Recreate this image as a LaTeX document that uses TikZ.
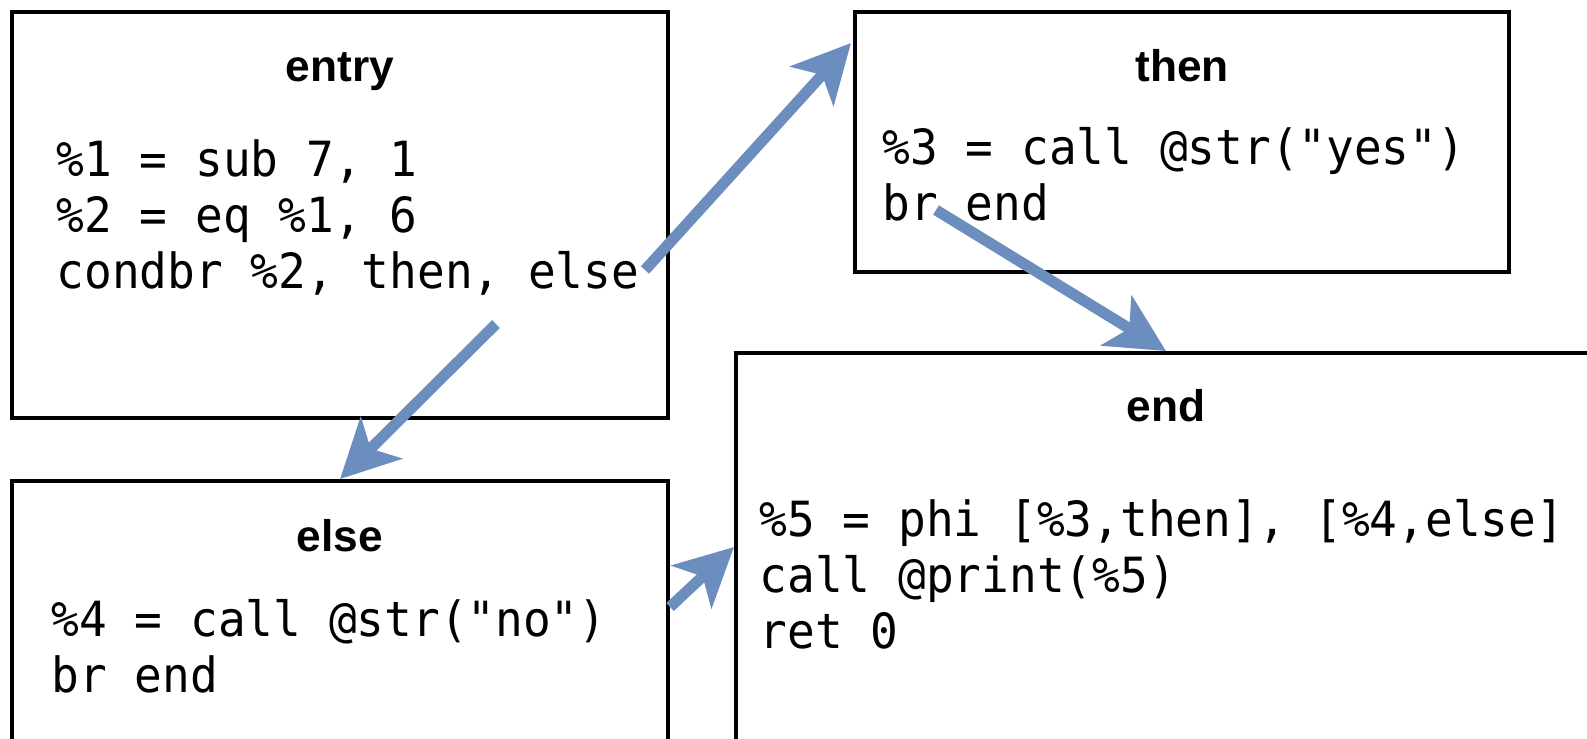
\documentclass[tikz,border=0pt]{standalone}
\usepackage{fontspec}
\setsansfont{Liberation Sans}
\setmonofont{DejaVu Sans Mono}[FakeStretch=0.95]
\usetikzlibrary{arrows.meta,calc}

\definecolor{flowblue}{RGB}{108,142,191}

\tikzset{
	block/.style={draw, line width=1.15pt, anchor=north west, inner sep=0pt},
	blocktitle/.style={anchor=base, inner sep=0pt, font=\sffamily\bfseries\fontsize{12.6}{15}\selectfont},
	% multi-line text: base sits on the last line
	code/.style={anchor=base west, inner sep=0pt, align=left, font=\ttfamily\fontsize{13.8}{15.8}\selectfont},
	flow/.style={draw=flowblue, line width=0.11cm,
		-{Stealth[length=0.58cm, width=0.58cm, inset=0.15cm, fill=flowblue]}}
}

\begin{document}
\begin{tikzpicture}
	\clip (0,0) rectangle (15.87,-7.38);
	
	% basic blocks
	\node[block, minimum width=6.56cm, minimum height=4.06cm] (entryblk) at (0.10,-0.10) {};
	\node[block, minimum width=6.54cm, minimum height=2.60cm] (thenblk) at (8.53,-0.10) {};
	\node[block, minimum width=6.56cm, minimum height=3.00cm] (elseblk) at (0.10,-4.79) {};
	\node[block, minimum width=8.60cm, minimum height=4.20cm] (endblk) at (7.34,-3.51) {};
	
	% block labels
	\node[blocktitle] (entrytitle) at ($(entryblk.north)+(0,-0.71)$) {entry};
	\node[blocktitle] (thentitle) at ($(thenblk.north)+(0,-0.71)$) {then};
	\node[blocktitle] (elsetitle) at ($(elseblk.north)+(0,-0.72)$) {else};
	\node[blocktitle] (endtitle) at ($(endblk.north)+(0,-0.70)$) {end};
	
	% instructions
	\node[code] (entrycode) at ($(entryblk.north west)+(0.46,-2.78)$)
		{\%1 = sub 7, 1\\\%2 = eq \%1, 6\\condbr \%2, then, else};
	\node[code] (thencode) at ($(thenblk.north west)+(0.29,-2.10)$)
		{\%3 = call @str("yes")\\br end};
	\node[code] (elsecode) at ($(elseblk.north west)+(0.41,-2.13)$)
		{\%4 = call @str("no")\\br end};
	\node[code] (endcode) at ($(endblk.north west)+(0.25,-2.97)$)
		{\%5 = phi [\%3,then], [\%4,else]\\call @print(\%5)\\ret 0};
	
	% branch ends
	\coordinate (condbr) at ($(entryblk.north west)+(6.35,-2.60)$);
	\coordinate (condbrelse) at ($(entryblk.north west)+(4.86,-3.14)$);
	\coordinate (thenbr) at ($(thenblk.north west)+(0.83,-2.00)$);
	\coordinate (thenin) at ($(thenblk.north west)+(-0.02,-0.33)$);
	\coordinate (endin) at ($(endblk.north west)+(0,-1.96)$);
	
	% control flow
	\draw[flow] (condbr) -- (thenin);
	\draw[flow] (condbrelse) -- (elseblk.north);
	\draw[flow] (thenbr) -- (endblk.north);
	\draw[flow] ($(elseblk.north east)+(0,-1.28)$) -- (endin);
	
\end{tikzpicture}
\end{document}
